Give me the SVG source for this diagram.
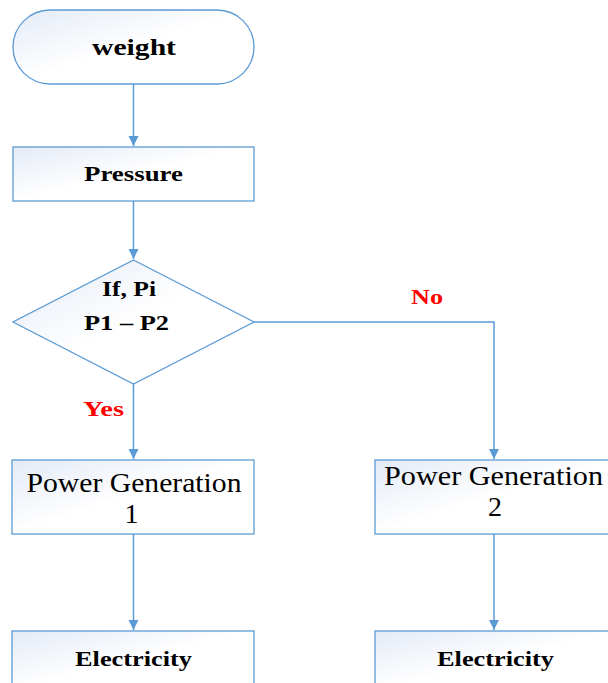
<svg xmlns="http://www.w3.org/2000/svg" width="608" height="683" viewBox="0 0 608 683">
  <style>
    .shape { fill: url(#g); stroke: #5b9bd5; stroke-width: 1.3; }
    .conn { fill: none; stroke: #5b9bd5; stroke-width: 1.5; }
    .b { font-family: "Liberation Serif", "Times New Roman", serif; font-weight: bold; fill: #000; }
    .r { font-family: "Liberation Serif", "Times New Roman", serif; fill: #000; }
    .lbl { font-family: "Liberation Serif", "Times New Roman", serif; font-weight: bold; fill: #ff0000; }
  </style>
  <defs>
    <linearGradient id="g" x1="0" y1="0" x2="1" y2="1">
      <stop offset="0" stop-color="#e4eaf6"/>
      <stop offset="0.5" stop-color="#ffffff"/>
      <stop offset="1" stop-color="#ffffff"/>
    </linearGradient>
    <marker id="arr" markerUnits="userSpaceOnUse" markerWidth="12" markerHeight="12" refX="10" refY="5" orient="auto">
      <path d="M0,0 L10,5 L0,10 Z" fill="#5b9bd5"/>
    </marker>
  </defs>

  <g id="connectors">
    <path class="conn" d="M133.5 84 V146" marker-end="url(#arr)"/>
    <path class="conn" d="M133.5 201 V259" marker-end="url(#arr)"/>
    <path class="conn" d="M133.5 384 V459" marker-end="url(#arr)"/>
    <path class="conn" d="M254 322 H494 V459" marker-end="url(#arr)"/>
    <path class="conn" d="M133.5 534 V630" marker-end="url(#arr)"/>
    <path class="conn" d="M494 534 V630" marker-end="url(#arr)"/>
    <text class="lbl" x="411" y="304" font-size="21" textLength="32" lengthAdjust="spacingAndGlyphs">No</text>
    <text class="lbl" x="83" y="416" font-size="21" textLength="41" lengthAdjust="spacingAndGlyphs">Yes</text>
  </g>

  <g id="weight">
    <rect class="shape" x="13" y="10" width="241" height="74" rx="37" ry="37"/>
    <text class="b" x="92" y="55" font-size="24" textLength="84" lengthAdjust="spacingAndGlyphs">weight</text>
  </g>

  <g id="pressure">
    <rect class="shape" x="13" y="147" width="241" height="54"/>
    <text class="b" x="84" y="181" font-size="21" textLength="99" lengthAdjust="spacingAndGlyphs">Pressure</text>
  </g>

  <g id="decision">
    <polygon class="shape" points="133.5,260 254,322 133.5,384 13,322"/>
    <text class="b" x="102" y="296" font-size="20" textLength="54" lengthAdjust="spacingAndGlyphs">If, Pi</text>
    <text class="b" x="84" y="330" font-size="20" textLength="85" lengthAdjust="spacingAndGlyphs">P1 – P2</text>
  </g>

  <g id="pg1">
    <rect class="shape" x="12" y="460" width="242" height="74"/>
    <text class="r" x="26.5" y="492" font-size="28" textLength="215" lengthAdjust="spacingAndGlyphs">Power Generation</text>
    <text class="r" x="131.5" y="523" font-size="28" text-anchor="middle">1</text>
  </g>

  <g id="pg2">
    <rect class="shape" x="375" y="460" width="242" height="74"/>
    <text class="r" x="384" y="485" font-size="28" textLength="219" lengthAdjust="spacingAndGlyphs">Power Generation</text>
    <text class="r" x="495" y="516" font-size="28" text-anchor="middle">2</text>
  </g>

  <g id="elec1">
    <rect class="shape" x="12" y="631" width="242" height="60"/>
    <text class="b" x="75" y="666" font-size="21" textLength="117" lengthAdjust="spacingAndGlyphs">Electricity</text>
  </g>

  <g id="elec2">
    <rect class="shape" x="375" y="631" width="242" height="60"/>
    <text class="b" x="437" y="666" font-size="21" textLength="117" lengthAdjust="spacingAndGlyphs">Electricity</text>
  </g>
</svg>
